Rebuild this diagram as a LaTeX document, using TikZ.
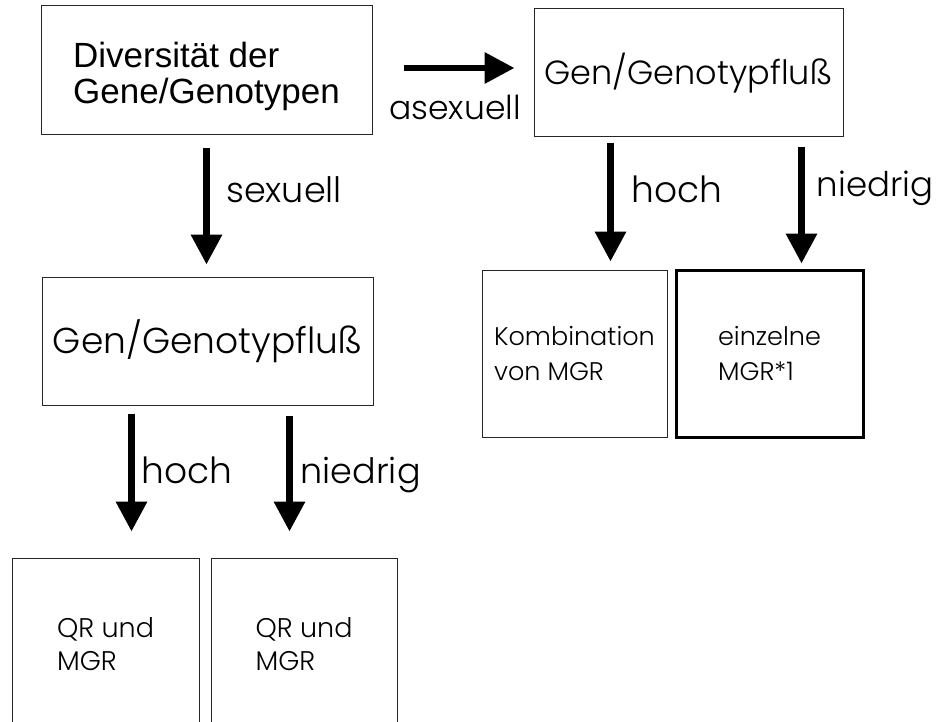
\documentclass[tikz,border=0pt]{standalone}
\usepackage{fontspec}
\setmainfont{Liberation Sans}
\IfFontExistsTF{Poppins Light}{\newfontfamily\geo{Poppins Light}}{\newfontfamily\geo{Poppins}}
\usetikzlibrary{arrows.meta}
\begin{document}
\begin{tikzpicture}[x=1pt,y=-1pt,
  box/.style={draw=black!85, line width=1pt, inner sep=0pt, align=left},
  thickbox/.style={draw=black, line width=3pt, inner sep=0pt, align=left},
  arr/.style={line width=6.5pt, -{Triangle[length=30pt,width=30pt]}},
  lbl/.style={inner sep=0pt, anchor=base west}
]
\clip (0,0) rectangle (939,722);
\fill[white] (0,0) rectangle (939,722);

\node[box, minimum width=331pt, minimum height=129pt,
      label={[align=left, inner sep=0pt, yshift=-6pt, font=\fontsize{35}{36}\selectfont]center:Diversität der\\Gene/Genotypen}] (div) at (206.5,70.5) {};
\node[box, minimum width=309pt, minimum height=128pt,
      font=\geo\fontsize{33.5}{35}\selectfont] (g2) at (688.5,73) {Gen/Genotypfluß};
\node[box, minimum width=331pt, minimum height=128pt,
      font=\geo\fontsize{36}{38}\selectfont] (g3) at (207.5,341) {Gen/Genotypfluß};
\node[box, minimum width=185pt, minimum height=167pt,
      font=\geo\fontsize{25.5}{35}\selectfont] (kom) at (574.5,353.5) {Kombination\\von MGR};
\node[thickbox, minimum width=187pt, minimum height=167pt,
      font=\geo\fontsize{25.5}{35}\selectfont] (ein) at (769.5,353.5) {einzelne\\MGR*1};
\node[box, minimum width=187pt, minimum height=172pt,
      font=\geo\fontsize{27}{33}\selectfont] (q1) at (105.5,644) {QR und\\MGR};
\node[box, minimum width=186pt, minimum height=172pt,
      font=\geo\fontsize{27}{33}\selectfont] (q2) at (304,644) {QR und\\MGR};

% asexuell
\draw[arr, shorten <=31pt, shorten >=19pt] ([yshift=2.5pt]div.east) -- ([yshift=2.5pt]div.east -| g2.west)
  node[lbl, midway, anchor=base, xshift=2pt, yshift=-52pt, font=\geo\fontsize{33}{33}\selectfont] {asexuell};
% sexuell
\draw[arr, shorten <=13pt, shorten >=12pt] (div.south) -- (div.south |- g3.north)
  node[lbl, midway, xshift=16.5pt, yshift=4pt, font=\geo\fontsize{35}{35}\selectfont] {sexuell};
% upper right
\draw[arr, shorten <=6pt, shorten >=8pt] ([xshift=77pt]g2.south west) -- ([xshift=77pt]g2.south west |- kom.north)
  node[lbl, midway, xshift=18pt, yshift=0.5pt, font=\geo\fontsize{36}{36}\selectfont] {hoch};
\draw[arr, shorten <=10pt, shorten >=5pt] ([xshift=268pt]g2.south west) -- ([xshift=268pt]g2.south west |- ein.north)
  node[lbl, midway, xshift=12pt, yshift=6.5pt, font=\geo\fontsize{34}{34}\selectfont] {niedrig};
% lower
\draw[arr, shorten <=8pt, shorten >=26pt] ([xshift=90pt]g3.south west) -- ([xshift=90pt]g3.south west |- q1.north)
  node[lbl, midway, xshift=7pt, yshift=-1.5pt, font=\geo\fontsize{36}{36}\selectfont] {hoch};
\draw[arr, shorten <=10pt, shorten >=26pt] ([xshift=248pt]g3.south west) -- ([xshift=248pt]g3.south west |- q2.north)
  node[lbl, midway, xshift=8pt, yshift=-1.5pt, font=\geo\fontsize{35}{35}\selectfont] {niedrig};
\end{tikzpicture}
\end{document}
